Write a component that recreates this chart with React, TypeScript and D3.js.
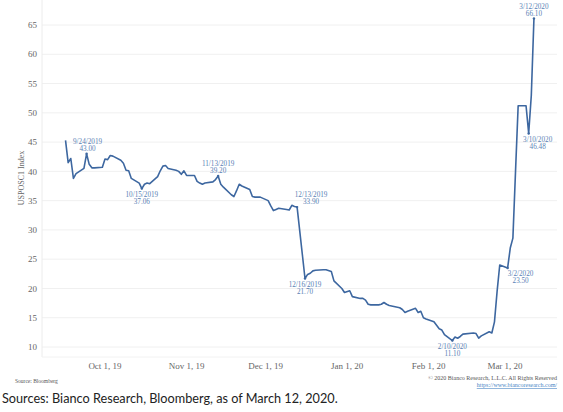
import React from "react";
import * as d3 from "d3";

const dates = [
  "2019-09-16", "2019-09-17", "2019-09-18", "2019-09-19", "2019-09-20",
  "2019-09-23", "2019-09-24", "2019-09-25", "2019-09-26", "2019-09-27",
  "2019-09-30", "2019-10-01", "2019-10-02", "2019-10-03", "2019-10-04",
  "2019-10-07", "2019-10-08", "2019-10-09", "2019-10-10", "2019-10-11",
  "2019-10-14", "2019-10-15", "2019-10-16", "2019-10-17", "2019-10-18",
  "2019-10-21", "2019-10-22", "2019-10-23", "2019-10-24", "2019-10-25",
  "2019-10-28", "2019-10-29", "2019-10-30", "2019-10-31", "2019-11-01",
  "2019-11-04", "2019-11-05", "2019-11-06", "2019-11-07", "2019-11-08",
  "2019-11-11", "2019-11-12", "2019-11-13", "2019-11-14", "2019-11-15",
  "2019-11-18", "2019-11-19", "2019-11-20", "2019-11-21", "2019-11-22",
  "2019-11-25", "2019-11-26", "2019-11-27", "2019-11-29",
  "2019-12-02", "2019-12-03", "2019-12-04", "2019-12-05", "2019-12-06",
  "2019-12-09", "2019-12-10", "2019-12-11", "2019-12-12", "2019-12-13",
  "2019-12-16", "2019-12-17", "2019-12-18", "2019-12-19", "2019-12-20",
  "2019-12-23", "2019-12-24", "2019-12-26", "2019-12-27",
  "2019-12-30", "2019-12-31", "2020-01-02", "2020-01-03",
  "2020-01-06", "2020-01-07", "2020-01-08", "2020-01-09", "2020-01-10",
  "2020-01-13", "2020-01-14", "2020-01-15", "2020-01-16", "2020-01-17",
  "2020-01-21", "2020-01-22", "2020-01-23", "2020-01-24",
  "2020-01-27", "2020-01-28", "2020-01-29", "2020-01-30", "2020-01-31",
  "2020-02-03", "2020-02-04", "2020-02-05", "2020-02-06", "2020-02-07",
  "2020-02-10", "2020-02-11", "2020-02-12", "2020-02-13", "2020-02-14",
  "2020-02-18", "2020-02-19", "2020-02-20", "2020-02-21",
  "2020-02-24", "2020-02-25", "2020-02-26", "2020-02-27", "2020-02-28",
  "2020-03-02", "2020-03-03", "2020-03-04", "2020-03-05", "2020-03-06",
  "2020-03-09", "2020-03-10", "2020-03-11", "2020-03-12",
];

const values = [
  45.3, 41.5, 42.2, 38.8, 39.6,
  40.5, 43.0, 41.2, 40.6, 40.6,
  40.7, 42.1, 42.0, 42.7, 42.6,
  41.9, 41.4, 40.2, 40.1, 38.8,
  38.0, 37.06, 37.8, 38.0, 37.9,
  39.1, 40.1, 40.9, 41.0, 40.5,
  40.2, 40.0, 39.5, 40.1, 39.3,
  39.3, 38.3, 38.0, 37.8, 38.0,
  38.2, 38.6, 39.2, 37.8, 37.3,
  36.0, 35.7, 36.7, 37.8, 37.5,
  36.9, 35.7, 35.6, 35.6,
  35.0, 34.1, 33.3, 33.5, 33.7,
  33.5, 33.4, 34.2, 34.0, 33.9,
  21.7, 22.4, 22.6, 23.0, 23.1,
  23.2, 23.2, 22.9, 21.3,
  20.0, 19.3, 19.6, 18.6,
  18.3, 18.3, 18.0, 17.3, 17.2,
  17.2, 17.3, 17.6, 17.3, 17.1,
  16.7, 16.4, 15.9, 16.1,
  16.6, 15.9, 16.1, 15.0, 14.8,
  14.3, 13.7, 13.1, 12.9, 12.1,
  11.1, 11.7, 11.5, 11.8, 12.2,
  12.4, 12.3, 11.5, 11.9,
  12.6, 12.4, 14.3, 19.5, 24.0,
  23.5, 26.9, 28.6, 40.0, 51.2,
  51.2, 46.48, 53.0, 66.1,
];

const yTicks = [10, 15, 20, 25, 30, 35, 40, 45, 50, 55, 60, 65];
const xTickDates = ["2019-10-01", "2019-11-01", "2019-12-01", "2020-01-01", "2020-02-01", "2020-03-01"];
const xTickLabels = ["Oct 1, 19", "Nov 1, 19", "Dec 1, 19", "Jan 1, 20", "Feb 1, 20", "Mar 1, 20"];

const noteDates = ["2019-09-24", "2019-10-15", "2019-11-13", "2019-12-13", "2019-12-16", "2020-02-10", "2020-03-02", "2020-03-10", "2020-03-12"];
const noteLabels = ["9/24/2019", "10/15/2019", "11/13/2019", "12/13/2019", "12/16/2019", "2/10/2020", "3/2/2020", "3/10/2020", "3/12/2020"];
const noteValues = [43.0, 37.06, 39.2, 33.9, 21.7, 11.1, 23.5, 46.48, 66.1];
const noteSide = ["above", "below", "above", "above", "below", "below", "below", "below", "above"];
const noteShift = [1, 0, 0, 14, 0, 0, 13, 9, 0];

const parse = d3.timeParse("%Y-%m-%d");

const App = () => {
  const width = 563;
  const height = 412;
  const plotLeft = 42;
  const plotRight = 557;
  const plotTop = 0;
  const plotBottom = 357;

  const x = d3
    .scaleTime()
    .domain([parse("2019-10-01") as Date, parse("2020-03-01") as Date])
    .range([105, 505]);
  const y = d3.scaleLinear().domain([10, 65]).range([347, 25]);

  const points = dates.map((d, i) => ({ date: parse(d) as Date, value: values[i] }));
  const line = d3
    .line<{ date: Date; value: number }>()
    .x((d) => x(d.date))
    .y((d) => y(d.value));

  const serif = "'Liberation Serif', 'DejaVu Serif', serif";
  const noteColor = "#5a7fb5";

  return (
    <svg
      width={width}
      height={height}
      style={{ position: "absolute", left: 0, top: 0, background: "#fff" }}
    >
      {/* grid */}
      {yTicks.map((t) => (
        <line key={"g" + t} x1={plotLeft} x2={plotRight} y1={y(t)} y2={y(t)} stroke="#f0f0f0" strokeWidth={1} />
      ))}
      <line x1={plotLeft} x2={plotLeft} y1={plotTop} y2={plotBottom} stroke="#ececec" />
      <line x1={plotLeft} x2={plotRight} y1={plotBottom} y2={plotBottom} stroke="#f2f2f2" />

      {/* y tick labels */}
      {yTicks.map((t) => (
        <text key={"yt" + t} x={37} y={y(t)} dy="0.35em" textAnchor="end" fontFamily={serif} fontSize={9} fill="#666">
          {t}
        </text>
      ))}
      <text
        transform={`translate(22,178) rotate(-90)`}
        textAnchor="middle"
        dominantBaseline="middle"
        fontFamily={serif}
        fontSize={8}
        fill="#666"
      >
        USPOSC1 Index
      </text>

      {/* x tick labels */}
      {xTickDates.map((d, i) => (
        <text key={"xt" + d} x={x(parse(d) as Date)} y={366} dy="0.35em" textAnchor="middle" fontFamily={serif} fontSize={9} fill="#666">
          {xTickLabels[i]}
        </text>
      ))}

      {/* series */}
      <path d={line(points) || ""} fill="none" stroke="#3d67a0" strokeWidth={1.6} strokeLinejoin="round" />

      {/* annotations */}
      {noteDates.map((d, i) => {
        const px = x(parse(d) as Date) + noteShift[i];
        const py = y(noteValues[i]);
        const above = noteSide[i] === "above";
        const y1 = above ? py - 12.5 : py + 5.8;
        return (
          <g key={"n" + d} fontFamily={serif} fontSize={7.2} fill={noteColor} textAnchor="middle">
            <circle cx={x(parse(d) as Date)} cy={py} r={1.2} fill="#3d67a0" />
            <text x={px} y={y1} dy="0.35em">{noteLabels[i]}</text>
            <text x={px} y={y1 + 7} dy="0.35em">{noteValues[i].toFixed(2)}</text>
          </g>
        );
      })}

      {/* footers */}
      <text x={15} y={381} dy="0.35em" fontFamily={serif} fontSize={5.5} fill="#555">
        Source: Bloomberg
      </text>
      <text x={557} y={378} dy="0.35em" textAnchor="end" fontFamily={serif} fontSize={6} fill="#555">
        © 2020 Bianco Research, L.L.C. All Rights Reserved
      </text>
      <text x={557} y={385} dy="0.35em" textAnchor="end" fontFamily={serif} fontSize={6} fill="#4a86c5" textDecoration="underline">
        https://www.biancoresearch.com/
      </text>
      <text x={2} y={403} fontFamily="Lato, 'Noto Sans', sans-serif" fontSize={12.7} fill="#222">
        Sources: Bianco Research, Bloomberg, as of March 12, 2020.
      </text>
    </svg>
  );
};

export default App;
